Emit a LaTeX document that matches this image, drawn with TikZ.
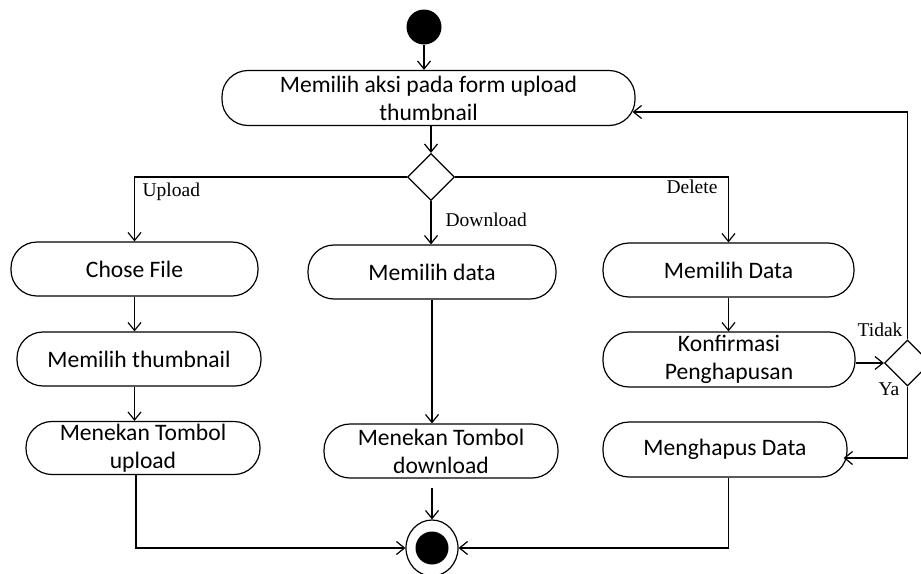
\documentclass[tikz,border=0pt]{standalone}
\usepackage{fontspec}
\setmainfont{Carlito}
\newfontfamily\lblfont{Liberation Serif}
\usetikzlibrary{shapes.geometric,arrows.meta,calc}
\begin{document}
\begin{tikzpicture}[x=1pt,y=-1pt,line width=1.2pt,
  act/.style={draw,rectangle,rounded corners=26pt,inner sep=0pt,align=center,
    font=\fontsize{23.6pt}{28pt}\selectfont},
  dec/.style={draw,diamond,minimum width=47pt,minimum height=47pt,inner sep=0pt},
  arr/.style={-{Straight Barb[length=8pt,width=13pt]}},
  lbl/.style={font=\lblfont\fontsize{19.5pt}{21pt}\selectfont,inner sep=0pt}]
\useasboundingbox (0,0) rectangle (921,573);
% nodes
\node[circle,fill=black,minimum size=35pt,inner sep=0pt] (start) at (424,27) {};
\node[act,minimum width=413pt,minimum height=55pt] (a1) at (428.5,98) {Memilih aksi pada form upload\\thumbnail};
\node[dec] (d1) at (431,177) {};
\node[act,minimum width=247pt,minimum height=54pt] (up1) at (134.5,269) {Chose File};
\node[act,minimum width=244pt,minimum height=54pt] (up2) at (139,359) {Memilih thumbnail};
\node[act,minimum width=234pt,minimum height=53pt] (up3) at (143,448) {Menekan Tombol\\upload};
\node[act,minimum width=248pt,minimum height=54pt] (dl1) at (432,272) {Memilih data};
\node[act,minimum width=234pt,minimum height=54pt] (dl2) at (441,451) {Menekan Tombol\\download};
\node[act,minimum width=251pt,minimum height=54pt] (de1) at (728.5,270) {Memilih Data};
\node[act,minimum width=252pt,minimum height=55pt] (de2) at (729,359.5) {Konfirmasi\\Penghapusan};
\node[dec,minimum width=46pt,minimum height=46pt] (d2) at (907.5,363) {};
\node[act,minimum width=244pt,minimum height=55pt] (de3) at (725,449.5) {Menghapus Data};
\node[draw,ellipse,minimum width=52pt,minimum height=56pt,inner sep=0pt] (end) at (432,548) {};
\node[circle,fill=black,minimum size=33pt,inner sep=0pt] (endin) at (end.center) {};
% connectors
\draw[arr] (start.south) -- (start.south |- a1.north);
\draw[arr] (a1.south -| d1.north) -- (d1.north);
\draw[arr] (d1.west) -| (up1.north);
\draw[arr] (d1.south) -- (d1.south |- dl1.north);
\draw[arr] (d1.east) -| (de1.north);
\draw[arr] (up1.south) -- (up1.south |- up2.north);
\draw[arr] (up1.south |- up2.south) -- (up1.south |- up3.north);
\draw[arr] ($(up1.south |- up3.south)+(1.5,0)$) |- (end.west);
\draw[arr] (dl1.south) -- (dl1.south |- dl2.north);
\draw[arr] ($(end.north |- dl2.south)+(0,9)$) -- (end.north);
\draw[arr] (de1.south) -- (de1.south |- de2.north);
\draw[arr] (de2.east |- d2.west) -- (d2.west);
\draw[arr] (de1.south |- de3.south) |- (end.east);
\draw[arr] (d2.north) |- ([yshift=-14pt,xshift=-3pt]a1.east);
\draw[arr] (d2.south) |- ([yshift=-8.5pt,xshift=-4pt]de3.east);
% labels
\node[lbl,anchor=base west] (lup) at (142,196) {Upload};
\node[lbl,anchor=base west] (ldl) at (445,226) {Download};
\node[lbl,anchor=base east] (lde) at (718,193) {Delete};
\node[lbl,anchor=base east] (ltd) at (903,336) {Tidak};
\node[lbl,anchor=base west] (lya) at (878,395) {Ya};
\end{tikzpicture}
\end{document}
